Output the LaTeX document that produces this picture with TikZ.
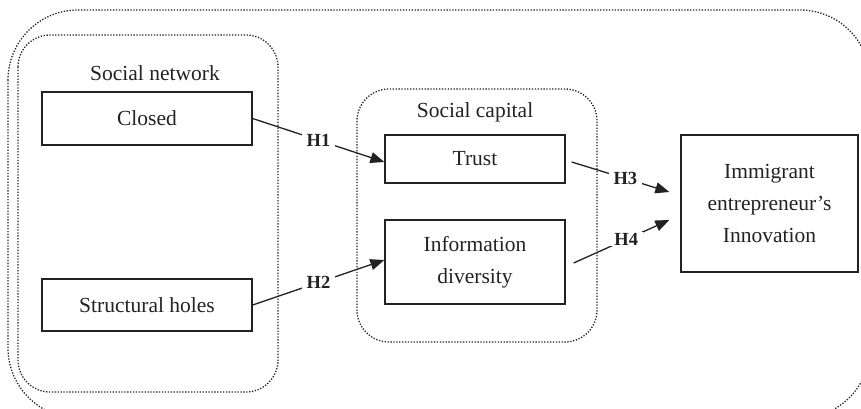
\documentclass[tikz,border=0pt]{standalone}
\usepackage{fontspec}
\setmainfont{Liberation Serif}
\usetikzlibrary{arrows.meta}
\definecolor{ink}{HTML}{222222}
\tikzset{
  group/.style={draw=ink, line width=1.3pt, dash pattern=on 1.3pt off 1.6pt},
  item/.style={draw=ink, line width=1.3pt, align=center, inner sep=0pt,
    font=\fontsize{21.5}{32}\selectfont, text=ink},
  caption/.style={font=\fontsize{21.5}{26}\selectfont, text=ink},
  link/.style={draw=ink, line width=1.3pt, -{Triangle[length=14pt,width=11pt]}},
  hyp/.style={fill=white, inner xsep=5pt, inner ysep=1pt, text=ink,
    font=\fontsize{18.5}{20}\selectfont\bfseries},
}
\begin{document}
\begin{tikzpicture}[x=1pt, y=-1pt]
  \useasboundingbox (0,0) rectangle (861,409);
  \clip (0,0) rectangle (861,409);

  % dotted grouping frames
  \draw[group, rounded corners=70pt] (8,10) rectangle (870,418);
  \draw[group, rounded corners=32pt] (18,35) rectangle (278,392);
  \draw[group, rounded corners=32pt] (357,89) rectangle (597,342);

  \node[caption] (netlabel) at (155,73) {Social network};
  \node[caption] (caplabel) at (475,112) {Social capital};

  % construct boxes
  \node[item, minimum width=210pt, minimum height=53pt] (closed) at (147,118.5) {Closed};
  \node[item, minimum width=210pt, minimum height=52pt] (holes) at (147,305) {Structural holes};
  \node[item, minimum width=180pt, minimum height=48pt] (trust) at (475,159) {Trust};
  \node[item, minimum width=180pt, minimum height=84pt] (info) at (475,262) {Information\\diversity};
  \node[item, minimum width=177pt, minimum height=137pt] (innov) at (769.5,203.5)
    {Immigrant\\entrepreneur's\\Innovation};

  % hypothesised paths
  \draw[link] (closed.east) -- node[hyp] {H1} ([yshift=-3pt]trust.west);
  \draw[link] (holes.east) -- node[hyp] {H2} ([yshift=2pt]info.west);
  \draw[link] ([shift={(6,3)}]trust.east) -- node[hyp, pos=0.55] {H3} ([shift={(-11,-11.5)}]innov.west);
  \draw[link] ([shift={(8,1)}]info.east) -- node[hyp, pos=0.55] {H4} ([shift={(-11,16.5)}]innov.west);
\end{tikzpicture}
\end{document}
